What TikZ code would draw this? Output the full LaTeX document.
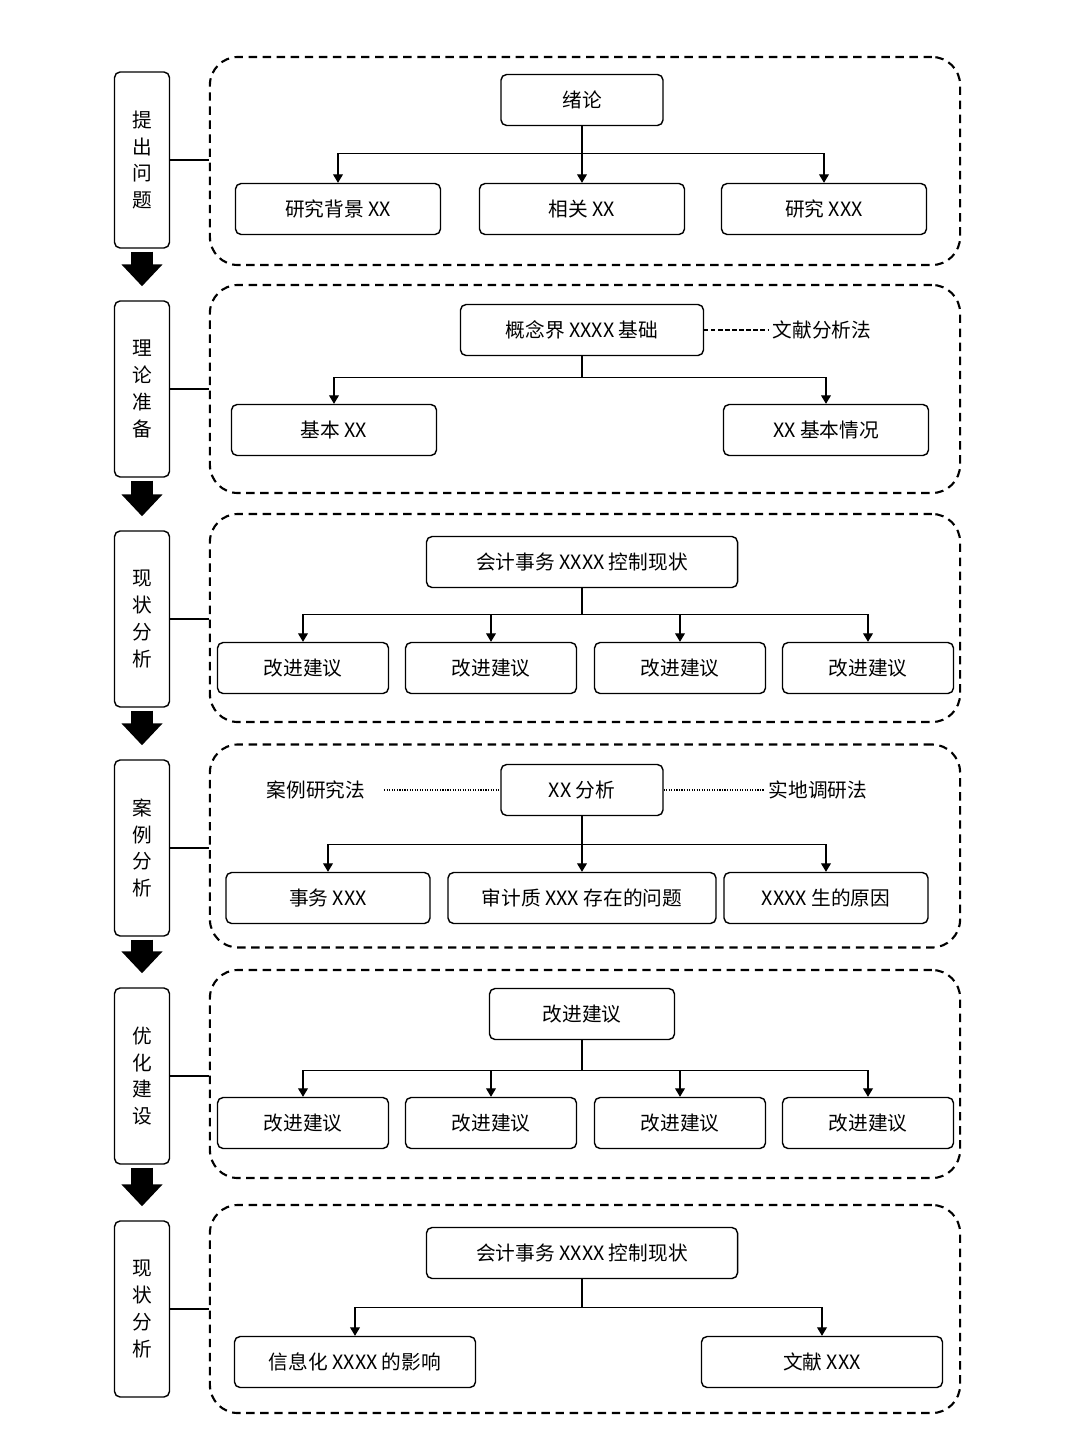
\documentclass[tikz,border=0pt]{standalone}
\usepackage{fontspec}
\setmainfont{Noto Sans CJK SC}
\usetikzlibrary{arrows.meta}

\begin{document}
\begin{tikzpicture}[
  x=0.025cm, y=-0.025cm,
  font=\fontsize{14}{19}\selectfont,
  stage/.style={
    draw, line width=1pt, rounded corners=4pt,
    minimum width=1.375cm, minimum height=4.4cm,
    align=center, inner sep=0pt
  },
  grp/.style={
    draw, line width=1.5pt, dash pattern=on 6pt off 4pt,
    rounded corners=20pt, inner sep=0pt,
    minimum width=18.75cm, minimum height=5.2cm
  },
  box/.style={
    draw, line width=1pt, rounded corners=4pt,
    minimum height=1.275cm, inner sep=0pt
  },
  arr/.style={line width=0.8pt, -{Triangle[width=7pt,length=6pt]}},
  bigarr/.style={
    line width=0.525cm, -{Triangle[width=1cm,length=0.55cm]},
    shorten <=2pt, shorten >=0.35cm
  }
]
  \useasboundingbox (0,0) rectangle (1080,1439);

  \node[stage] (s1) at (142,160) {提\\出\\问\\题};
  \node[stage] (s2) at (142,389) {理\\论\\准\\备};
  \node[stage] (s3) at (142,619) {现\\状\\分\\析};
  \node[stage] (s4) at (142,848) {案\\例\\分\\析};
  \node[stage] (s5) at (142,1076) {优\\化\\建\\设};
  \node[stage] (s6) at (142,1309) {现\\状\\分\\析};
  \foreach \a/\b in {s1/s2,s2/s3,s3/s4,s4/s5,s5/s6} {
    \draw[bigarr] (\a.south) -- (\b.north);
  }

  \node[grp] (g1) at (585,161) {};
  \node[grp] (g2) at (585,389) {};
  \node[grp] (g3) at (585,618) {};
  \node[grp, minimum height=5.075cm] (g4) at (585,846) {};
  \node[grp] (g5) at (585,1074) {};
  \node[grp] (g6) at (585,1309) {};
  \foreach \i in {1,...,6} {
    \draw[line width=0.8pt] (s\i.east) -- (s\i.east -| g\i.west);
  }

  \node[box, minimum width=4.05cm] (p1) at (582,100) {绪论};
  \node[box, minimum width=5.125cm] (c11) at (338,209) {研究背景 XX};
  \node[box, minimum width=5.125cm] (c12) at (582,209) {相关 XX};
  \node[box, minimum width=5.125cm] (c13) at (824,209) {研究 XXX};
  \draw[arr] (p1.south) -- ++(0,27) -| (c11.north);
  \draw[arr] (p1.south) -- (c12.north);
  \draw[arr] (p1.south) -- ++(0,27) -| (c13.north);

  \node[box, minimum width=6.075cm] (p2) at (582,330) {概念界 XXXX 基础};
  \node (m2) at (822,330) {文献分析法};
  \node[box, minimum width=5.125cm] (c21) at (334,430) {基本 XX};
  \node[box, minimum width=5.125cm] (c22) at (826,430) {XX 基本情况};
  \draw[densely dashed, line width=0.8pt] (p2.east) -- (m2.west);
  \draw[arr] (p2.south) -- ++(0,21) -| (c21.north);
  \draw[arr] (p2.south) -- ++(0,21) -| (c22.north);

  \node[box, minimum width=7.775cm] (p3) at (582,562) {会计事务 XXXX 控制现状};
  \node[box, minimum width=4.275cm] (c31) at (303,668) {改进建议};
  \node[box, minimum width=4.275cm] (c32) at (491,668) {改进建议};
  \node[box, minimum width=4.275cm] (c33) at (680,668) {改进建议};
  \node[box, minimum width=4.275cm] (c34) at (868,668) {改进建议};
  \foreach \c in {c31,c32,c33,c34} {
    \draw[arr] (p3.south) -- ++(0,26) -| (\c.north);
  }

  \node[box, minimum width=4.05cm] (p4) at (582,790) {XX 分析};
  \node (m41) at (316,790) {案例研究法};
  \node (m42) at (818,790) {实地调研法};
  \node[box, minimum width=5.1cm] (c41) at (328,898) {事务 XXX};
  \node[box, minimum width=6.7cm] (c42) at (582,898) {审计质 XXX 存在的问题};
  \node[box, minimum width=5.1cm] (c43) at (826,898) {XXXX 生的原因};
  \draw[densely dotted, line width=0.8pt, shorten <=0.35cm] (m41.east) -- (p4.west);
  \draw[densely dotted, line width=0.8pt] (p4.east) -- (m42.west);
  \draw[arr] (p4.south) -- ++(0,28) -| (c41.north);
  \draw[arr] (p4.south) -- (c42.north);
  \draw[arr] (p4.south) -- ++(0,28) -| (c43.north);

  \node[box, minimum width=4.625cm] (p5) at (582,1014) {改进建议};
  \node[box, minimum width=4.275cm] (c51) at (303,1123) {改进建议};
  \node[box, minimum width=4.275cm] (c52) at (491,1123) {改进建议};
  \node[box, minimum width=4.275cm] (c53) at (680,1123) {改进建议};
  \node[box, minimum width=4.275cm] (c54) at (868,1123) {改进建议};
  \foreach \c in {c51,c52,c53,c54} {
    \draw[arr] (p5.south) -- ++(0,30) -| (\c.north);
  }

  \node[box, minimum width=7.775cm] (p6) at (582,1253) {会计事务 XXXX 控制现状};
  \node[box, minimum width=6.025cm] (c61) at (355,1362) {信息化 XXXX 的影响};
  \node[box, minimum width=6.025cm] (c62) at (822,1362) {文献 XXX};
  \draw[arr] (p6.south) -- ++(0,28) -| (c61.north);
  \draw[arr] (p6.south) -- ++(0,28) -| (c62.north);
\end{tikzpicture}
\end{document}
